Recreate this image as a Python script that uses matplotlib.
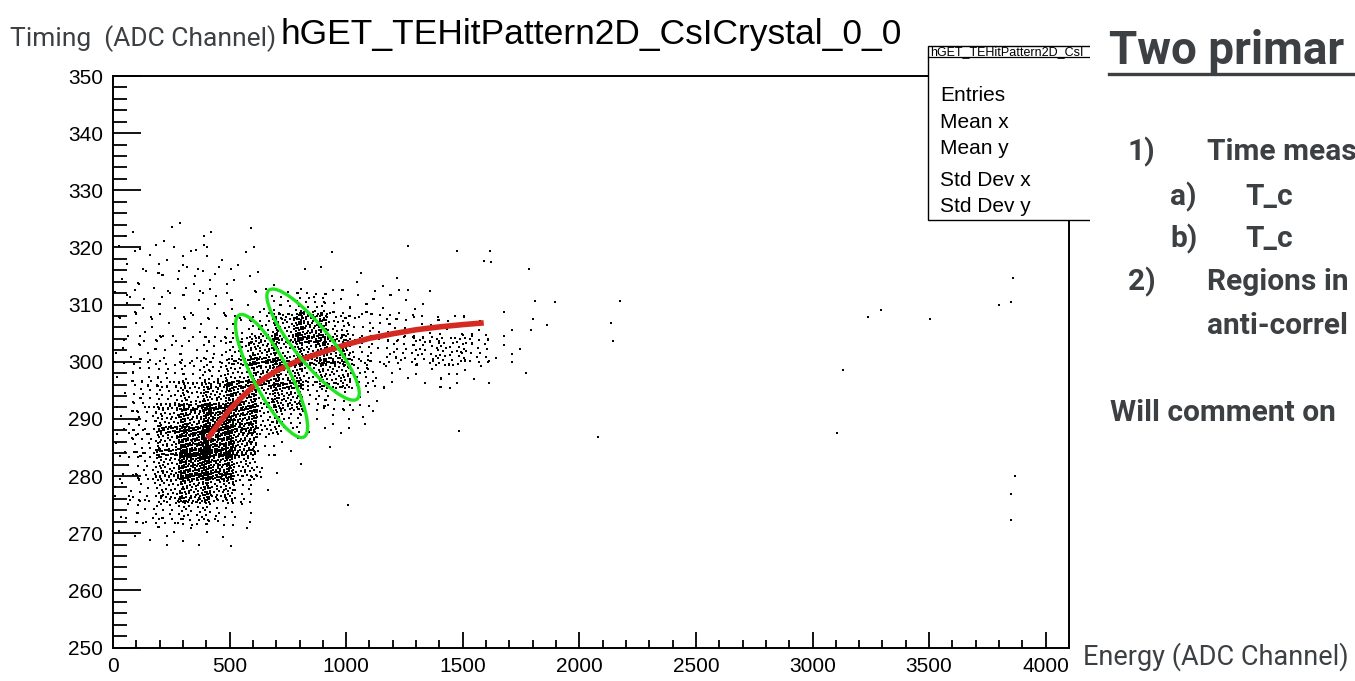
import numpy as np
import matplotlib
matplotlib.use("Agg")
import matplotlib.pyplot as plt
import matplotlib.transforms as mtransforms
from matplotlib.patches import Ellipse, Rectangle
from matplotlib.lines import Line2D

W, H = 1355, 681

# --- 2D histogram (counts), energy bins of 100, timing bins of 4
e_edges = np.arange(0, 1900, 100)
t_edges = np.arange(268, 328, 4)
# rows from top (320-324) to bottom (268-272), columns E 0-100 ... 1700-1800
counts = [
    [1, 3, 2, 3, 2, 1, 0, 0, 0, 0, 0, 0, 0, 0, 0, 0, 0, 0],
    [3, 5, 4, 4, 4, 2, 1, 0, 0, 0, 0, 0, 0, 0, 0, 0, 0, 0],
    [4, 5, 5, 5, 4, 3, 2, 1, 1, 0, 0, 0, 0, 0, 0, 0, 0, 0],
    [5, 6, 5, 5, 5, 5, 5, 16, 26, 10, 7, 6, 5, 2, 1, 0, 0, 0],
    [5, 6, 6, 6, 7, 12, 22, 60, 100, 35, 15, 13, 12, 10, 10, 7, 2, 0],
    [6, 8, 8, 9, 12, 28, 72, 48, 72, 65, 20, 15, 18, 25, 32, 22, 5, 2],
    [6, 13, 17, 18, 26, 48, 72, 66, 32, 58, 22, 8, 5, 7, 9, 4, 1, 0],
    [6, 18, 30, 42, 72, 96, 48, 78, 16, 18, 10, 2, 0, 0, 0, 0, 0, 0],
    [7, 20, 54, 96, 150, 130, 36, 30, 6, 5, 3, 0, 0, 0, 0, 0, 0, 0],
    [8, 20, 66, 160, 170, 95, 12, 4, 0, 0, 0, 0, 0, 0, 0, 0, 0, 0],
    [8, 18, 60, 150, 130, 54, 6, 1, 0, 0, 0, 0, 0, 0, 0, 0, 0, 0],
    [8, 16, 45, 84, 66, 22, 2, 0, 0, 0, 0, 0, 0, 0, 0, 0, 0, 0],
    [7, 11, 20, 30, 19, 5, 0, 0, 0, 0, 0, 0, 0, 0, 0, 0, 0, 0],
    [3, 5, 6, 6, 4, 1, 0, 0, 0, 0, 0, 0, 0, 0, 0, 0, 0, 0],
]

# isolated entries outside the dense region
out_e = [940, 824, 1064, 1047, 1219, 1227, 1266, 1159, 1266, 1476, 1618, 1592, 1622,
         1785, 1811, 1897, 1802, 1863, 1794, 2176, 2137, 2146, 1773, 2082, 1485, 931,
         1009, 1073, 3240, 3292, 3502, 3129, 3107, 3858, 3798, 3850, 3867, 3850, 3850]
out_t = [319.2, 316.3, 315.6, 313.9, 314.7, 312.6, 312.6, 313.2, 320.2, 319.3, 319.3, 317.7, 317.4,
         316.3, 310.7, 310.4, 307.5, 306.5, 305.6, 310.7, 306.8, 303.7, 298.0, 286.8, 287.9, 285.0,
         274.9, 290.4, 307.9, 309.1, 307.5, 298.6, 287.5, 314.7, 310.0, 310.4, 280.0, 276.8, 272.3]

# fitted curve (red)
fit_e = [405, 450, 500, 550, 600, 650, 700, 800, 900, 1000, 1100, 1200, 1300, 1400, 1500, 1590]
fit_t = [286.5, 289.0, 291.6, 293.7, 295.6, 297.1, 298.4, 300.3, 301.7, 303.0, 304.1, 304.9,
         305.6, 306.1, 306.5, 306.8]

# green selections: centre (E, T), axes in px, angle
ell_centres = [(680, 297.5), (858, 303.0)]
ell_sizes = [(138, 36), (140, 36)]
ell_angles = [-62, -51]


def fx(px):
    return px / W


def fy(py):
    return 1 - py / H


# scatter the bin contents over each bin (deterministic R2 sequence),
# spread a little past the bin edges so neighbouring bins blend
spread = 1.35
xs, ys = [], []
g = 0
nrow = len(counts)
for i, row in enumerate(counts):
    t_hi = t_edges[nrow - i]
    t_lo = t_edges[nrow - i - 1]
    for j, n in enumerate(row):
        for k in range(n):
            u = (0.5 + g * 0.7548776662) % 1
            v = (0.5 + g * 0.5698402910) % 1
            g += 1
            u = u * spread - (spread - 1) / 2
            v = v * spread - (spread - 1) / 2
            xs.append(e_edges[j] + u * (e_edges[j + 1] - e_edges[j]))
            ys.append(t_lo + v * (t_hi - t_lo))
xs += out_e
ys += out_t

fig = plt.figure(figsize=(W / 100, H / 100), dpi=100)
fig.patch.set_facecolor("white")
ax = fig.add_axes([fx(113), fy(647.5), fx(1069) - fx(113), fy(76) - fy(647.5)])

ax.scatter(xs, ys, s=4.2, marker="s", c="black", linewidths=0, zorder=2)
ax.plot(fit_e, fit_t, color="#d42a22", lw=4.0, solid_capstyle="butt", zorder=3)

ax.set_xlim(0, 4100)
ax.set_ylim(250, 350)
ax.set_xticks(np.arange(0, 4001, 500))
ax.set_xticks(np.arange(0, 4101, 100), minor=True)
ax.set_yticks(np.arange(250, 351, 10))
ax.set_yticks(np.arange(250, 351, 2), minor=True)
for sp in ax.spines.values():
    sp.set_linewidth(1.4)
    sp.set_zorder(5)
ax.tick_params(axis="both", which="both", direction="in", width=1.3, labelsize=15, colors="black")
ax.tick_params(axis="x", which="major", length=11.5, pad=7)
ax.tick_params(axis="x", which="minor", length=5.5)
ax.tick_params(axis="y", which="major", length=20, pad=7)
ax.tick_params(axis="y", which="minor", length=10)
for lab in ax.get_xticklabels() + ax.get_yticklabels():
    lab.set_fontfamily("Liberation Sans")

fig.canvas.draw()
for (cx, cy), (w, h), a in zip(ell_centres, ell_sizes, ell_angles):
    tr = fig.dpi_scale_trans + mtransforms.ScaledTranslation(cx, cy, ax.transData)
    e = Ellipse((0, 0), w / 100, h / 100, angle=a, transform=tr,
                fill=False, ec="#1fe61f", lw=2.4, zorder=4)
    ax.add_artist(e)

# stats box
box = Rectangle((fx(928), fy(220)), fx(1110) - fx(928), fy(46) - fy(220),
                transform=fig.transFigure, fc="white", ec="black", lw=1.0, zorder=5)
fig.add_artist(box)
fig.add_artist(Line2D([fx(928), fx(1110)], [fy(57), fy(57)], transform=fig.transFigure,
                      color="black", lw=0.9, zorder=6))
fig.text(fx(930), fy(55), "hGET_TEHitPattern2D_CsI", fontsize=9,
         family="Liberation Sans", va="baseline", zorder=6)
stat_names = ["Entries", "Mean x", "Mean y", "Std Dev x", "Std Dev y"]
stat_base = [101, 128, 154, 186, 212]
for s, b in zip(stat_names, stat_base):
    fig.text(fx(940), fy(b), s, fontsize=15, family="Liberation Sans", va="baseline", zorder=6)

# slide area on the right covers the rest of the box
fig.add_artist(Rectangle((fx(1090), 0), 1 - fx(1090), 1, transform=fig.transFigure,
                         fc="white", ec="none", zorder=7))

fig.text(fx(591), fy(44), "hGET_TEHitPattern2D_CsICrystal_0_0", fontsize=25.5,
         family="Liberation Sans", ha="center", va="baseline")

slide_col = "#3c4043"
fig.text(fx(10), fy(46), "Timing  (ADC Channel)", fontsize=19, family="Roboto",
         color=slide_col, va="baseline")
fig.text(fx(1083), fy(665), "Energy (ADC Channel)", fontsize=19.5, family="Roboto",
         color=slide_col, va="baseline", zorder=8)

fig.text(fx(1109), fy(64), "Two primar", fontsize=33, family="Roboto", weight="bold",
         color=slide_col, va="baseline", zorder=8)
fig.add_artist(Line2D([fx(1109), 1], [fy(74), fy(74)], transform=fig.transFigure,
                      color=slide_col, lw=2.4, zorder=8))

items = [
    (1128, 160, "1)"), (1207, 160, "Time meas"),
    (1170, 205, "a)"), (1245, 205, "T_c"),
    (1170, 247, "b)"), (1245, 247, "T_c"),
    (1128, 290, "2)"), (1207, 290, "Regions in"),
    (1207, 334, "anti-correl"),
    (1110, 421, "Will comment on"),
]
for x, y, s in items:
    fig.text(fx(x), fy(y), s, fontsize=21.5, family="Roboto", weight="bold",
             color=slide_col, va="baseline", zorder=8)

fig.savefig("out.png", dpi=100, facecolor="white")
